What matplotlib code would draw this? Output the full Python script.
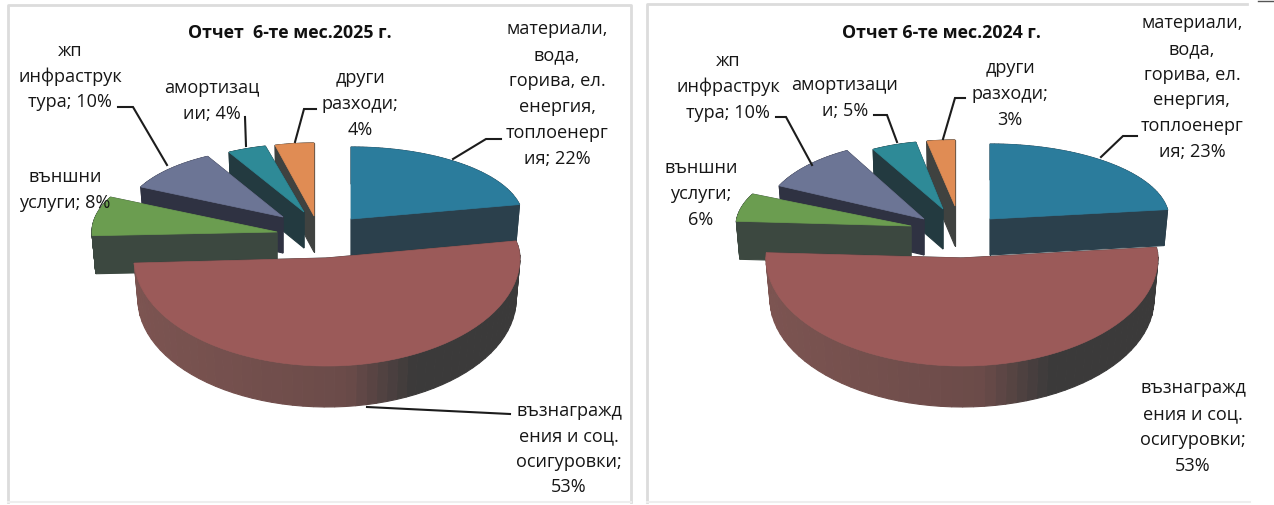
import numpy as np
import matplotlib
matplotlib.use("Agg")
import matplotlib.pyplot as plt
from matplotlib.colors import to_rgb

# данни за двете диаграми (син, червен, зелен, лилав, тюркоазен, оранжев)
values_2025 = [22, 53, 8, 10, 4, 4]
values_2024 = [23, 53, 6, 10, 5, 3]
title_2025 = "Отчет  6-те мес.2025 г."
title_2024 = "Отчет 6-те мес.2024 г."
labels_2025 = [
    ["материали,", "вода,", "горива, ел.", "енергия,", "топлоенерг", "ия; 22%"],
    ["възнагражд", "ения и соц.", "осигуровки;", "53%"],
    ["външни", "услуги; 8%"],
    ["жп", "инфраструк", "тура; 10%"],
    ["амортизац", "ии; 4%"],
    ["други", "разходи;", "4%"],
]
labels_2024 = [
    ["материали,", "вода,", "горива, ел.", "енергия,", "топлоенерг", "ия; 23%"],
    ["възнагражд", "ения и соц.", "осигуровки;", "53%"],
    ["външни", "услуги;", "6%"],
    ["жп", "инфраструк", "тура; 10%"],
    ["амортизаци", "и; 5%"],
    ["други", "разходи;", "3%"],
]

# цветове: горна страна и страничните стени
top_colors = ["#2b7c9c", "#9b5a59", "#6b9d50", "#6c7595", "#2e8a97", "#e08c54"]
side_colors = [
    ["#2b404c", "#2b404c", "#2b404c"],
    ["#7c5451", "#6b4b49", "#3b3a3a"],
    ["#3c4840", "#3c4840", "#3c4840"],
    ["#2f3242", "#2f3242", "#2f3242"],
    ["#233a40", "#233a40", "#233a40"],
    ["#3f4240", "#3f4240", "#3f4240"],
]

# геометрия на парчетата в пиксели: връх x, y, rx, ry назад, ry напред, дебелина
geom_2025 = [
    (351, 220, 172, 72, 72, 37),
    (327, 259, 193, 85, 108, 41),
    (277, 233, 185, 80, 80, 38),
    (283, 218, 158, 69, 69, 36),
    (304, 213, 157, 68, 68, 36),
    (314, 217, 158, 73, 73, 36),
]
geom_2024 = [
    (990, 220, 179, 75, 75, 36),
    (962, 259, 196, 85, 108, 41),
    (911, 227, 175, 75, 75, 38),
    (924, 220, 160, 78, 78, 36),
    (943, 210, 145, 68, 68, 40),
    (955, 207, 150, 66, 66, 40),
]
rim_shrink = 0.98  # долният ръб е малко по-тесен от горния

# центрове на надписите (x, y на първия ред, стъпка)
label_pos_2025 = [(557, 29, 26), (569, 411, 25.3), (65, 177, 25.5),
                  (70, 51, 25.5), (212, 88, 26), (360, 78, 26)]
label_pos_2024 = [(1192, 23, 25.8), (1193, 388, 26), (701, 168, 26),
                  (728, 61, 26), (845, 85, 26), (1010, 68, 26)]

# водещи линии
leaders_2025 = [
    [(501, 140), (486, 140), (453, 160)],
    [(510, 415), (367, 408)],
    [(118, 108), (133, 108), (167, 166)],
    [(245, 118), (246, 147)],
    [(316, 110), (304, 110), (295, 143)],
]
leaders_2024 = [
    [(1137, 137), (1123, 137), (1101, 158)],
    [(776, 118), (786, 118), (812, 166)],
    [(874, 116), (887, 116), (897, 143)],
    [(965, 99), (955, 99), (943, 140)],
]


def arc_point(g, theta):
    # ъгълът се мери по часовника от север, предната половина е по-голяма
    x0, y0, rx, ry_back, ry_front, _ = g
    c = np.cos(theta)
    ry = np.where(c > 0, ry_back, ry_front)
    return x0 + rx * np.sin(theta), y0 - ry * c


def side_color(cols, s):
    # цвят на стената според посоката наляво/надясно
    rgb = np.array([to_rgb(c) for c in cols])
    return [np.interp(s, [-1, 0.1, 0.45], rgb[:, k]) for k in range(3)]


def draw_slice(ax, g, a0, a1, top, sides):
    x0, y0, depth = g[0], g[1], g[5]
    theta = np.linspace(a0, a1, 60)
    xs, ys = arc_point(g, theta)
    xb = x0 + (xs - x0) * rim_shrink
    # радиални стени
    for k in (0, -1):
        ax.fill([x0, xs[k], xb[k], x0], [y0, ys[k], ys[k] + depth, y0 + depth],
                color=side_color(sides, 0.45 if sides[0] != sides[2] else 0), lw=0.8)
    # стена по дъгата
    for i in range(len(theta) - 1):
        s = np.sin((theta[i] + theta[i + 1]) / 2)
        ax.fill([xs[i], xs[i + 1], xb[i + 1], xb[i]],
                [ys[i], ys[i + 1], ys[i + 1] + depth, ys[i] + depth],
                color=side_color(sides, s), lw=0.8)
    ax.fill(np.r_[x0, xs], np.r_[y0, ys], color=top, lw=0.5)


def draw_pie(ax, values, geom, title, title_x, labels, label_pos, leaders):
    vals = np.array(values, dtype=float)
    edges = np.r_[0, np.cumsum(vals)] / vals.sum() * 2 * np.pi
    # отзад напред, долното парче е последно
    for i in [5, 4, 3, 2, 0, 1]:
        draw_slice(ax, geom[i], edges[i], edges[i + 1], top_colors[i], side_colors[i])
    for line in leaders:
        ax.plot(*zip(*line), color="#1c1c1c", lw=1.5, solid_joinstyle="miter")
    ax.text(title_x, 33, title, ha="center", va="center", fontsize=12.8,
            fontweight="bold", color="#111111")
    for lines, (x, y, step) in zip(labels, label_pos):
        for j, s in enumerate(lines):
            ax.text(x, y + j * step, s, ha="center", va="center", fontsize=13.1,
                    color="#161616")


plt.rcParams["font.family"] = ["Open Sans", "DejaVu Sans"]
fig = plt.figure(figsize=(12.74, 5.06), dpi=100)
ax = fig.add_axes([0, 0, 1, 1])
ax.set_xlim(0, 1274)
ax.set_ylim(506, 0)
ax.axis("off")

# рамки на двете диаграми, горе вдясно рамката прекъсва
ax.plot([8, 8, 631, 631], [503, 6, 6, 503], color="#dcdcdc", lw=2)
ax.plot([8, 631], [503, 503], color="#eeeeee", lw=1.5)
ax.plot([647, 647, 1247], [503, 5, 5], color="#dcdcdc", lw=2)
ax.plot([647, 1250], [503, 503], color="#eeeeee", lw=1.5)
ax.plot([1258, 1274], [2, 2], color="#555555", lw=1)

draw_pie(ax, values_2025, geom_2025, title_2025, 290, labels_2025, label_pos_2025, leaders_2025)
draw_pie(ax, values_2024, geom_2024, title_2024, 941, labels_2024, label_pos_2024, leaders_2024)

fig.savefig("out.png", dpi=100)
